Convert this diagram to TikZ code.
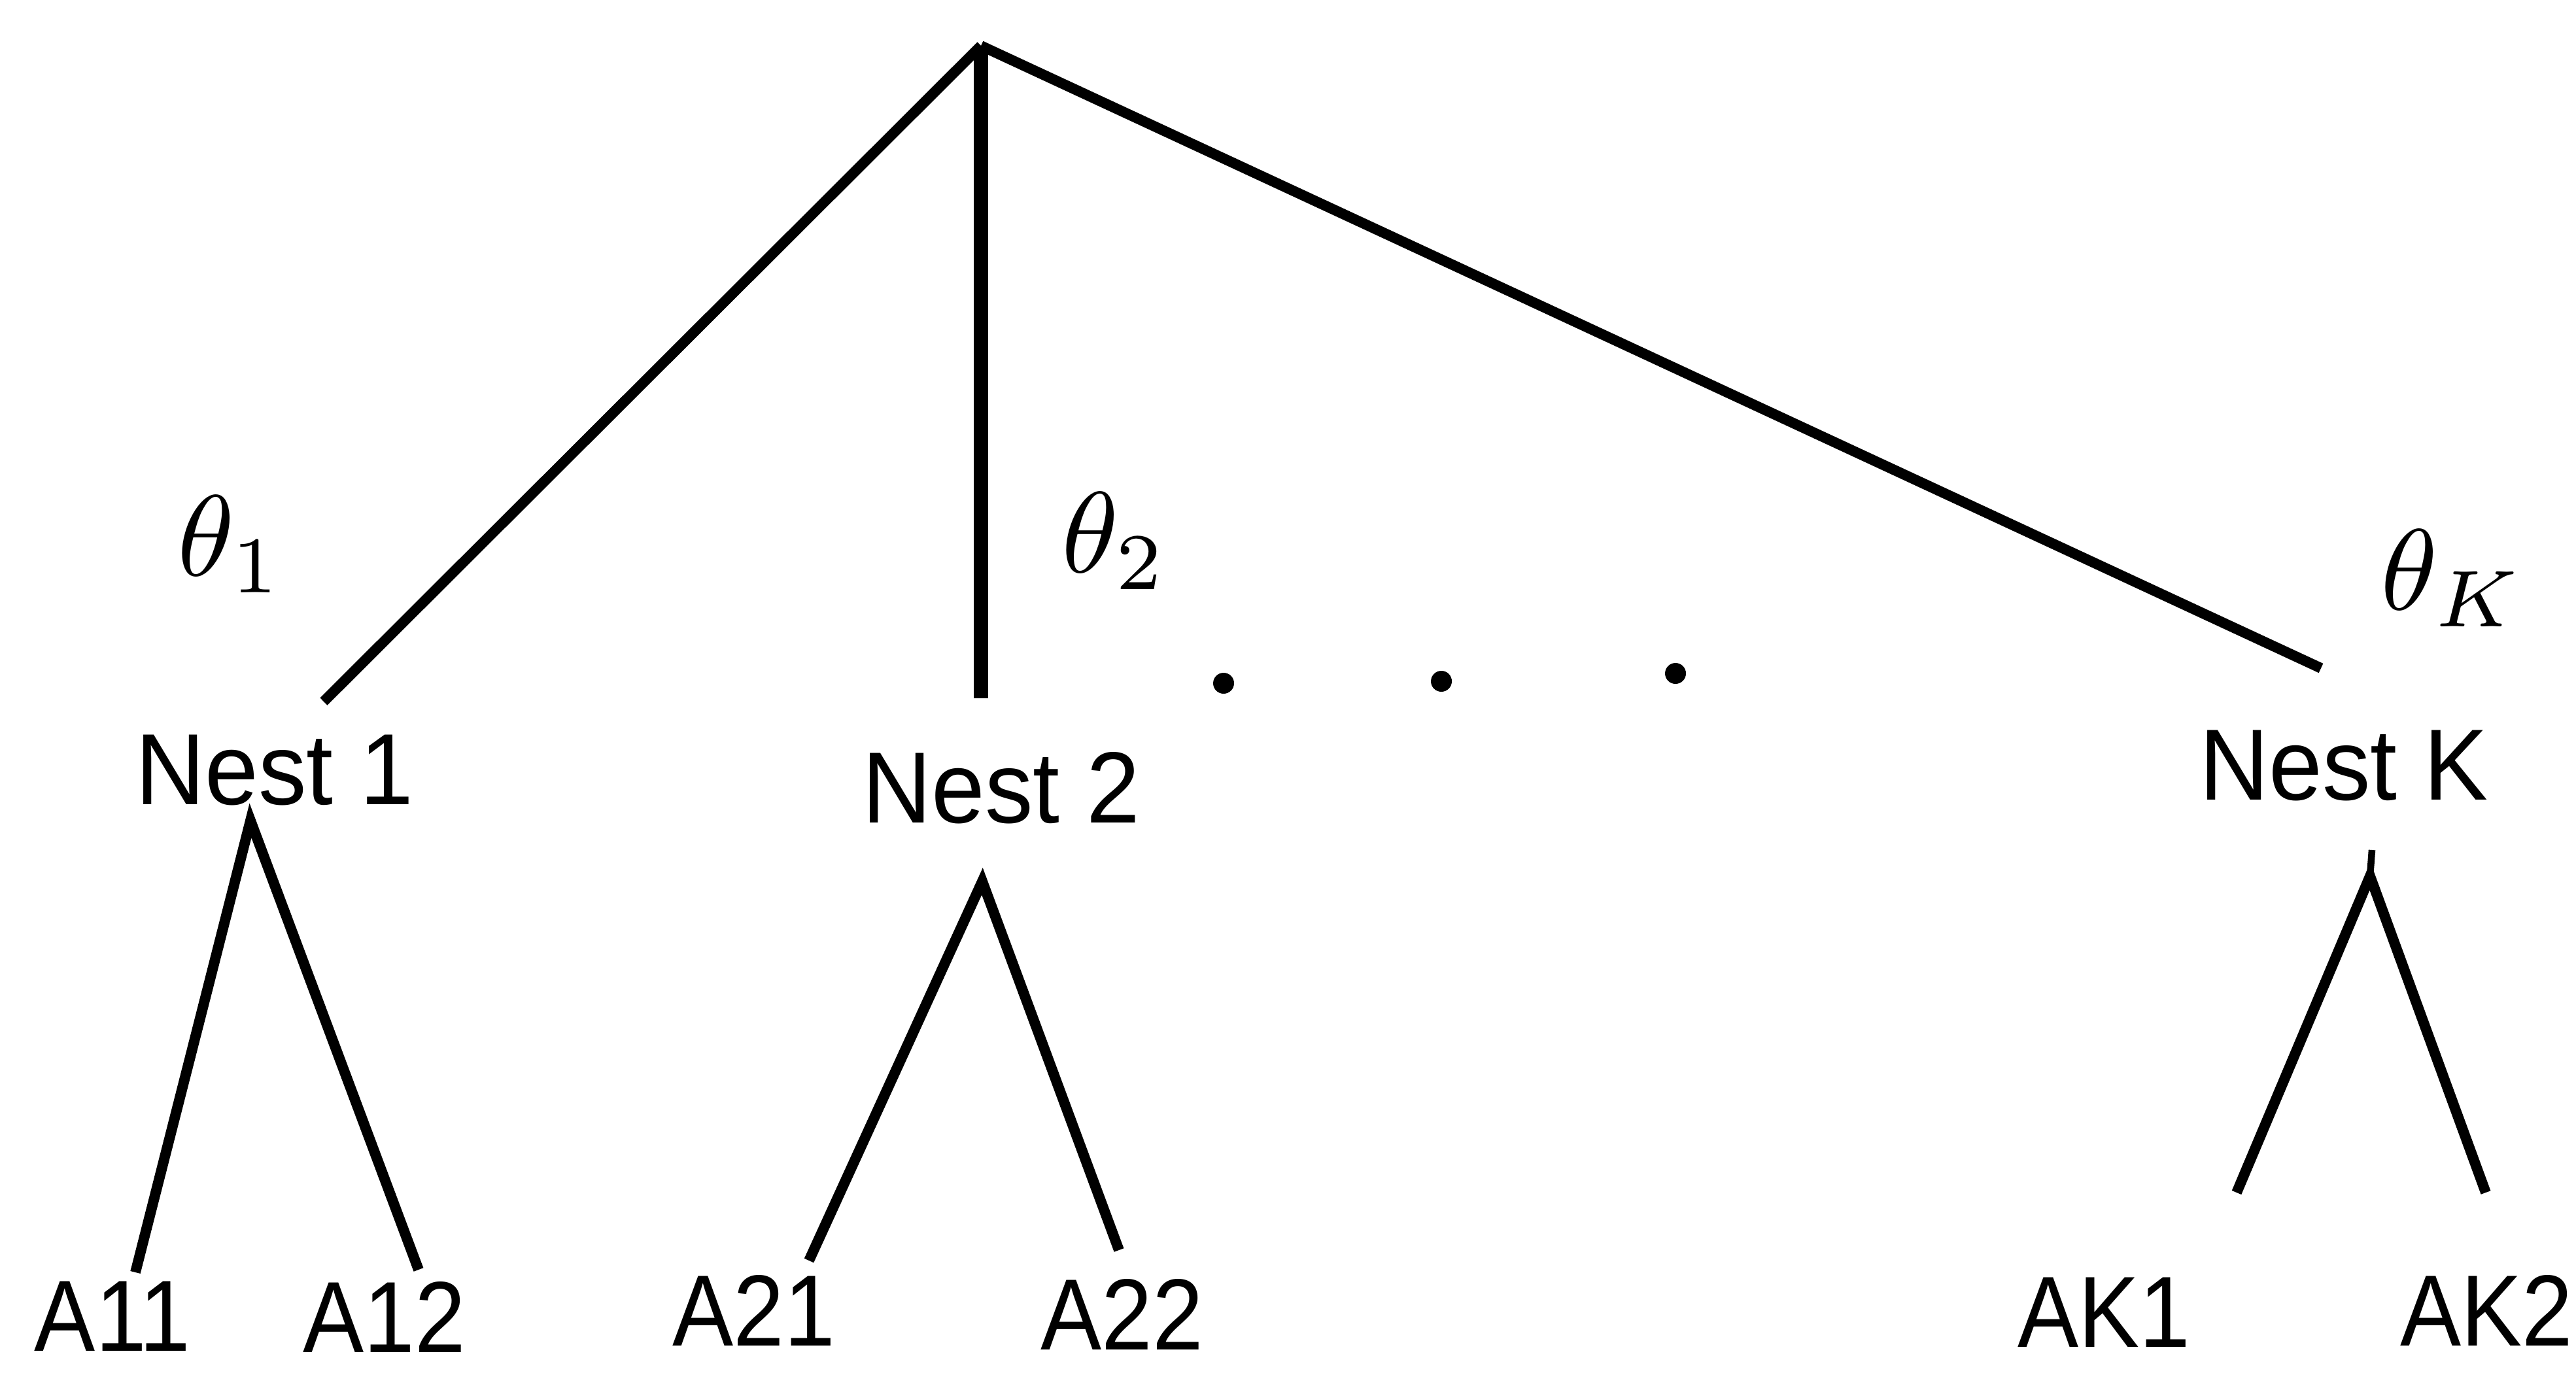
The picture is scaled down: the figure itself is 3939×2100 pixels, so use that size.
\documentclass[tikz,border=0pt]{standalone}
\usepackage{fontspec}
\setmainfont{Liberation Sans}

\newcommand{\scl}{0.01}   % one unit = one pixel of the scan

\tikzset{
  nest/.style={inner sep=0pt,anchor=base,xscale=0.95,font=\fontsize{44}{44}\selectfont},
  leaf/.style={nest,xscale=0.95},
  th/.style={inner sep=0pt,anchor=base west,scale=5},
  br/.style={line width=4.5pt},
  dot/.style={circle,fill,inner sep=0pt,minimum size=32*\scl cm},
}

\begin{document}
\begin{tikzpicture}[x=\scl cm,y=-\scl cm]
  \useasboundingbox (0,0) rectangle (3939,2100);
  \coordinate (top) at (1500,70);
%
  \node[nest] (n1) at (420,1230) {Nest 1};
  \node[nest] (n2) at (1531,1258) {Nest 2};
  \node[nest] (nk) at (3584,1223) {Nest K};
  \coordinate (e1) at (495,1073);
  \coordinate (e2) at (1500,1068);
  \coordinate (ek) at (3549,1022);
  \draw[br] (top) -- (e1);
  \draw[br,line width=6pt] (top) -- (e2);
  \draw[br] (top) -- (ek);
%
  \node[th] (t1) at (268,880) {$\theta_1$};
  \node[th] (t2) at (1620,875) {$\theta_2$};
  \node[th] (tk) at (3637,932) {$\theta_K$};
  \foreach \i/\x/\y in {1/1871/1045, 2/2204/1042, 3/2562/1030}
    \node[dot] (d\i) at (\x,\y) {};
%
  % nest 1
  \coordinate (a1) at (383,1255);
  \node[leaf] (a11) at (172,2066) {A11};
  \node[leaf] (a12) at (588,2068) {A12};
  \coordinate (l11) at (207,1946);
  \coordinate (l12) at (640,1942);
  \draw[br] (l11) -- (a1) -- (l12);
  % nest 2
  \coordinate (a2) at (1502,1348);
  \node[leaf] (a21) at (1153,2058) {A21};
  \node[leaf] (a22) at (1716,2064) {A22};
  \coordinate (l21) at (1237,1928);
  \coordinate (l22) at (1711,1912);
  \draw[br] (l21) -- (a2) -- (l22);
  % nest K
  \coordinate (ak0) at (3627,1300);
  \coordinate (ak) at (3624,1340);
  \node[leaf] (ak1) at (3217,2060) {AK1};
  \node[leaf] (ak2) at (3802,2058) {AK2};
  \coordinate (lk1) at (3420,1824);
  \coordinate (lk2) at (3801,1824);
  \draw[br,line width=3pt] (ak0) -- (ak);
  \draw[br] (lk1) -- (ak) -- (lk2);
\end{tikzpicture}
\end{document}
